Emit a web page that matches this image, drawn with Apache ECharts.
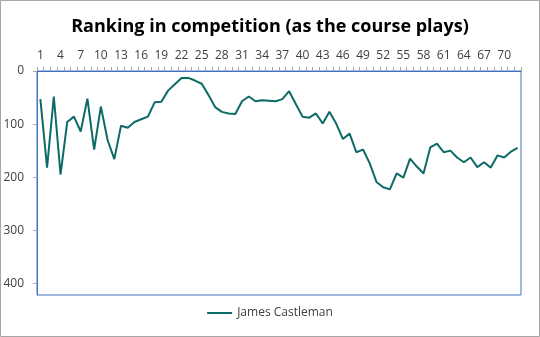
<!DOCTYPE html>
<html>
<head>
<meta charset="utf-8">
<script src="https://cdn.jsdelivr.net/npm/echarts@6/dist/echarts.min.js"></script>
<style>
  html, body { margin: 0; padding: 0; background: #fff; }
  #chart { width: 540px; height: 337px; }
</style>
</head>
<body>
<div id="chart"></div>
<script>
// Hole numbers (72 holes over the tournament)
const holes = Array.from({ length: 72 }, (_, i) => String(i + 1));

// Position on the leaderboard after each hole
const ranking = [
  53, 182, 48, 195, 96, 86, 114, 52, 148, 67,
  130, 166, 103, 107, 96, 91, 86, 59, 58, 37,
  25, 13, 13, 18, 24, 45, 68, 77, 80, 81,
  57, 48, 57, 55, 56, 57, 53, 38, 62, 86,
  88, 80, 99, 77, 99, 128, 118, 153, 148, 174,
  209, 219, 223, 193, 201, 165, 180, 193, 144, 137,
  153, 150, 163, 172, 163, 181, 172, 182, 159, 163,
  152, 145
];

const yTicks = [0, 100, 200, 300, 400];
const seriesName = 'James Castleman';
const lineColor = '#0D6B66';

const chart = echarts.init(document.getElementById('chart'), null, { renderer: 'canvas' });

chart.setOption({
  backgroundColor: '#ffffff',
  animation: false,
  title: {
    text: 'Ranking in competition (as the course plays)',
    left: 'center',
    top: 13,
    textStyle: {
      fontFamily: 'Open Sans',
      fontWeight: 'bold',
      fontSize: 18,
      color: '#000000'
    }
  },
  legend: {
    bottom: 13,
    left: 'center',
    icon: 'rect',
    itemWidth: 25,
    itemHeight: 2,
    itemGap: 10,
    textStyle: { fontFamily: 'Open Sans', fontSize: 12, color: '#404040' },
    data: [seriesName]
  },
  grid: {
    left: 37,
    right: 19,
    top: 71,
    bottom: 42,
    show: true,
    borderColor: '#4472C4',
    borderWidth: 1,
    containLabel: false
  },
  xAxis: {
    type: 'category',
    position: 'top',
    data: holes,
    boundaryGap: true,
    axisLine: { show: true, lineStyle: { color: '#4472C4', width: 1 } },
    axisTick: { show: true, interval: 0, length: 4, lineStyle: { color: '#A6A6A6' } },
    axisLabel: {
      interval: 2,
      margin: 9,
      fontFamily: 'Open Sans',
      fontSize: 12,
      color: '#404040'
    },
    splitLine: { show: false }
  },
  yAxis: {
    type: 'value',
    inverse: true,
    min: 0,
    max: 422,
    interval: 100,
    axisLine: { show: true, lineStyle: { color: '#4472C4', width: 1 } },
    axisTick: { show: true, length: 4, customValues: yTicks, lineStyle: { color: '#A6A6A6' } },
    axisLabel: {
      customValues: yTicks,
      margin: 13,
      fontFamily: 'Open Sans',
      fontSize: 12,
      color: '#404040'
    },
    splitLine: { show: false }
  },
  series: [{
    name: seriesName,
    type: 'line',
    data: ranking,
    symbol: 'none',
    lineStyle: { color: lineColor, width: 2 },
    itemStyle: { color: lineColor }
  }],
  graphic: [{
    type: 'rect',
    shape: { x: 0.5, y: 0.5, width: 539, height: 336 },
    style: { fill: null, stroke: '#A6A6A6', lineWidth: 1 },
    silent: true
  }]
});
</script>
</body>
</html>
